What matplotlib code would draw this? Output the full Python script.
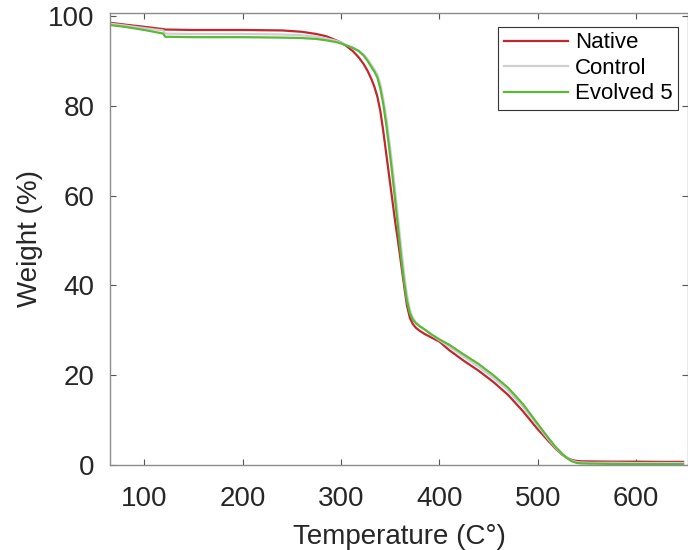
import matplotlib.pyplot as plt

# 温度 (C) 和三条曲线的重量 (%)
temps = [65, 80, 100, 119, 121, 150, 200,
         240, 260, 275, 285, 295,
         300, 305, 312, 318, 323, 327, 331, 334, 337,
         340, 343, 346, 349, 352, 355, 358, 361, 364, 367, 370,
         373, 376, 380, 385, 392, 400,
         410, 425, 440, 455, 470, 485, 500,
         510, 518, 525, 530, 535, 540, 545, 555,
         575, 600, 625, 648]

native = [98.5, 98.1, 97.6, 97.1, 97.0, 96.9, 96.9,
          96.8, 96.5, 96.0, 95.5, 94.6,
          94.1, 93.4, 92.2, 90.8, 89.3, 87.8, 85.9, 84.2, 82.0,
          78.8, 74.3, 69.3, 64.3, 59.3, 54.3, 49.8, 45.0, 40.2, 35.6, 32.8,
          31.4, 30.6, 29.9, 29.2, 28.4, 27.5,
          25.6, 23.2, 21.0, 18.5, 15.6, 12.0, 8.0,
          5.6, 3.7, 2.3, 1.6, 1.1, 0.9, 0.82, 0.8,
          0.75, 0.75, 0.7, 0.7]

control = [98.3, 97.9, 97.3, 96.8, 96.1, 96.0, 96.0,
           95.9, 95.7, 95.4, 95.0, 94.5,
           94.1, 93.6, 93.0, 92.3, 91.4, 90.4, 89.1, 88.1, 86.9,
           84.8, 81.6, 77.4, 72.4, 67.0, 61.2, 55.0, 48.8, 43.0, 38.0, 34.6,
           32.8, 31.8, 31.0, 30.2, 29.0, 27.8,
           26.4, 24.1, 21.9, 19.4, 16.6, 13.0, 8.8,
           6.0, 3.9, 2.4, 1.55, 0.95, 0.65, 0.55, 0.5,
           0.5, 0.45, 0.45, 0.45]

evolved5 = [98.0, 97.6, 96.9, 96.1, 95.4, 95.3, 95.3,
            95.2, 95.1, 94.9, 94.6, 94.2,
            93.9, 93.5, 92.9, 92.2, 91.2, 90.0, 88.6, 87.6, 86.3,
            83.8, 80.3, 75.8, 70.6, 65.0, 59.0, 52.8, 46.5, 41.0, 36.6, 33.8,
            32.4, 31.6, 30.9, 30.2, 29.1, 28.0,
            26.8, 24.6, 22.5, 20.0, 17.2, 13.6, 9.2,
            6.3, 4.1, 2.5, 1.5, 0.8, 0.45, 0.35, 0.3,
            0.25, 0.2, 0.2, 0.2]

xticks = [100, 200, 300, 400, 500, 600]
yticks = [0, 20, 40, 60, 80, 100]

plt.rcParams['font.family'] = ['Liberation Sans', 'DejaVu Sans']

fig = plt.figure(figsize=(6.88, 5.5), dpi=100)
ax = fig.add_axes([0.16, 0.1545, 0.84, 0.822])

ax.plot(temps, native, color='#c0282d', lw=1.6, label='Native', solid_joinstyle='round')
ax.plot(temps, control, color='#cfcfcf', lw=1.6, label='Control', solid_joinstyle='round')
ax.plot(temps, evolved5, color='#5bb83a', lw=1.6, label='Evolved 5', solid_joinstyle='round')

ax.set_xlim(65, 653)
ax.set_ylim(0, 100.7)
ax.set_xticks(xticks)
ax.set_yticks(yticks)
ax.tick_params(direction='in', length=4, width=0.8, color='#555555',
               labelsize=20, labelcolor='#262626', top=True, right=True)
ax.tick_params(axis='x', pad=15)
ax.tick_params(axis='y', pad=11)
for s in ax.spines.values():
    s.set_color('#8c8c8c')
    s.set_linewidth(1.0)

ax.set_xlabel('Temperature (C°)', fontsize=20, color='#262626', labelpad=9)
ax.set_ylabel('Weight (%)', fontsize=20, color='#262626', labelpad=4)

leg = ax.legend(loc='upper right', bbox_to_anchor=(0.983, 0.969), fontsize=16,
                fancybox=False, framealpha=1, edgecolor='#333333',
                borderpad=0.25, labelspacing=0.2, handlelength=2.9,
                handletextpad=0.3, borderaxespad=0)
leg.get_frame().set_linewidth(0.8)

plt.savefig('out.png', dpi=100)
